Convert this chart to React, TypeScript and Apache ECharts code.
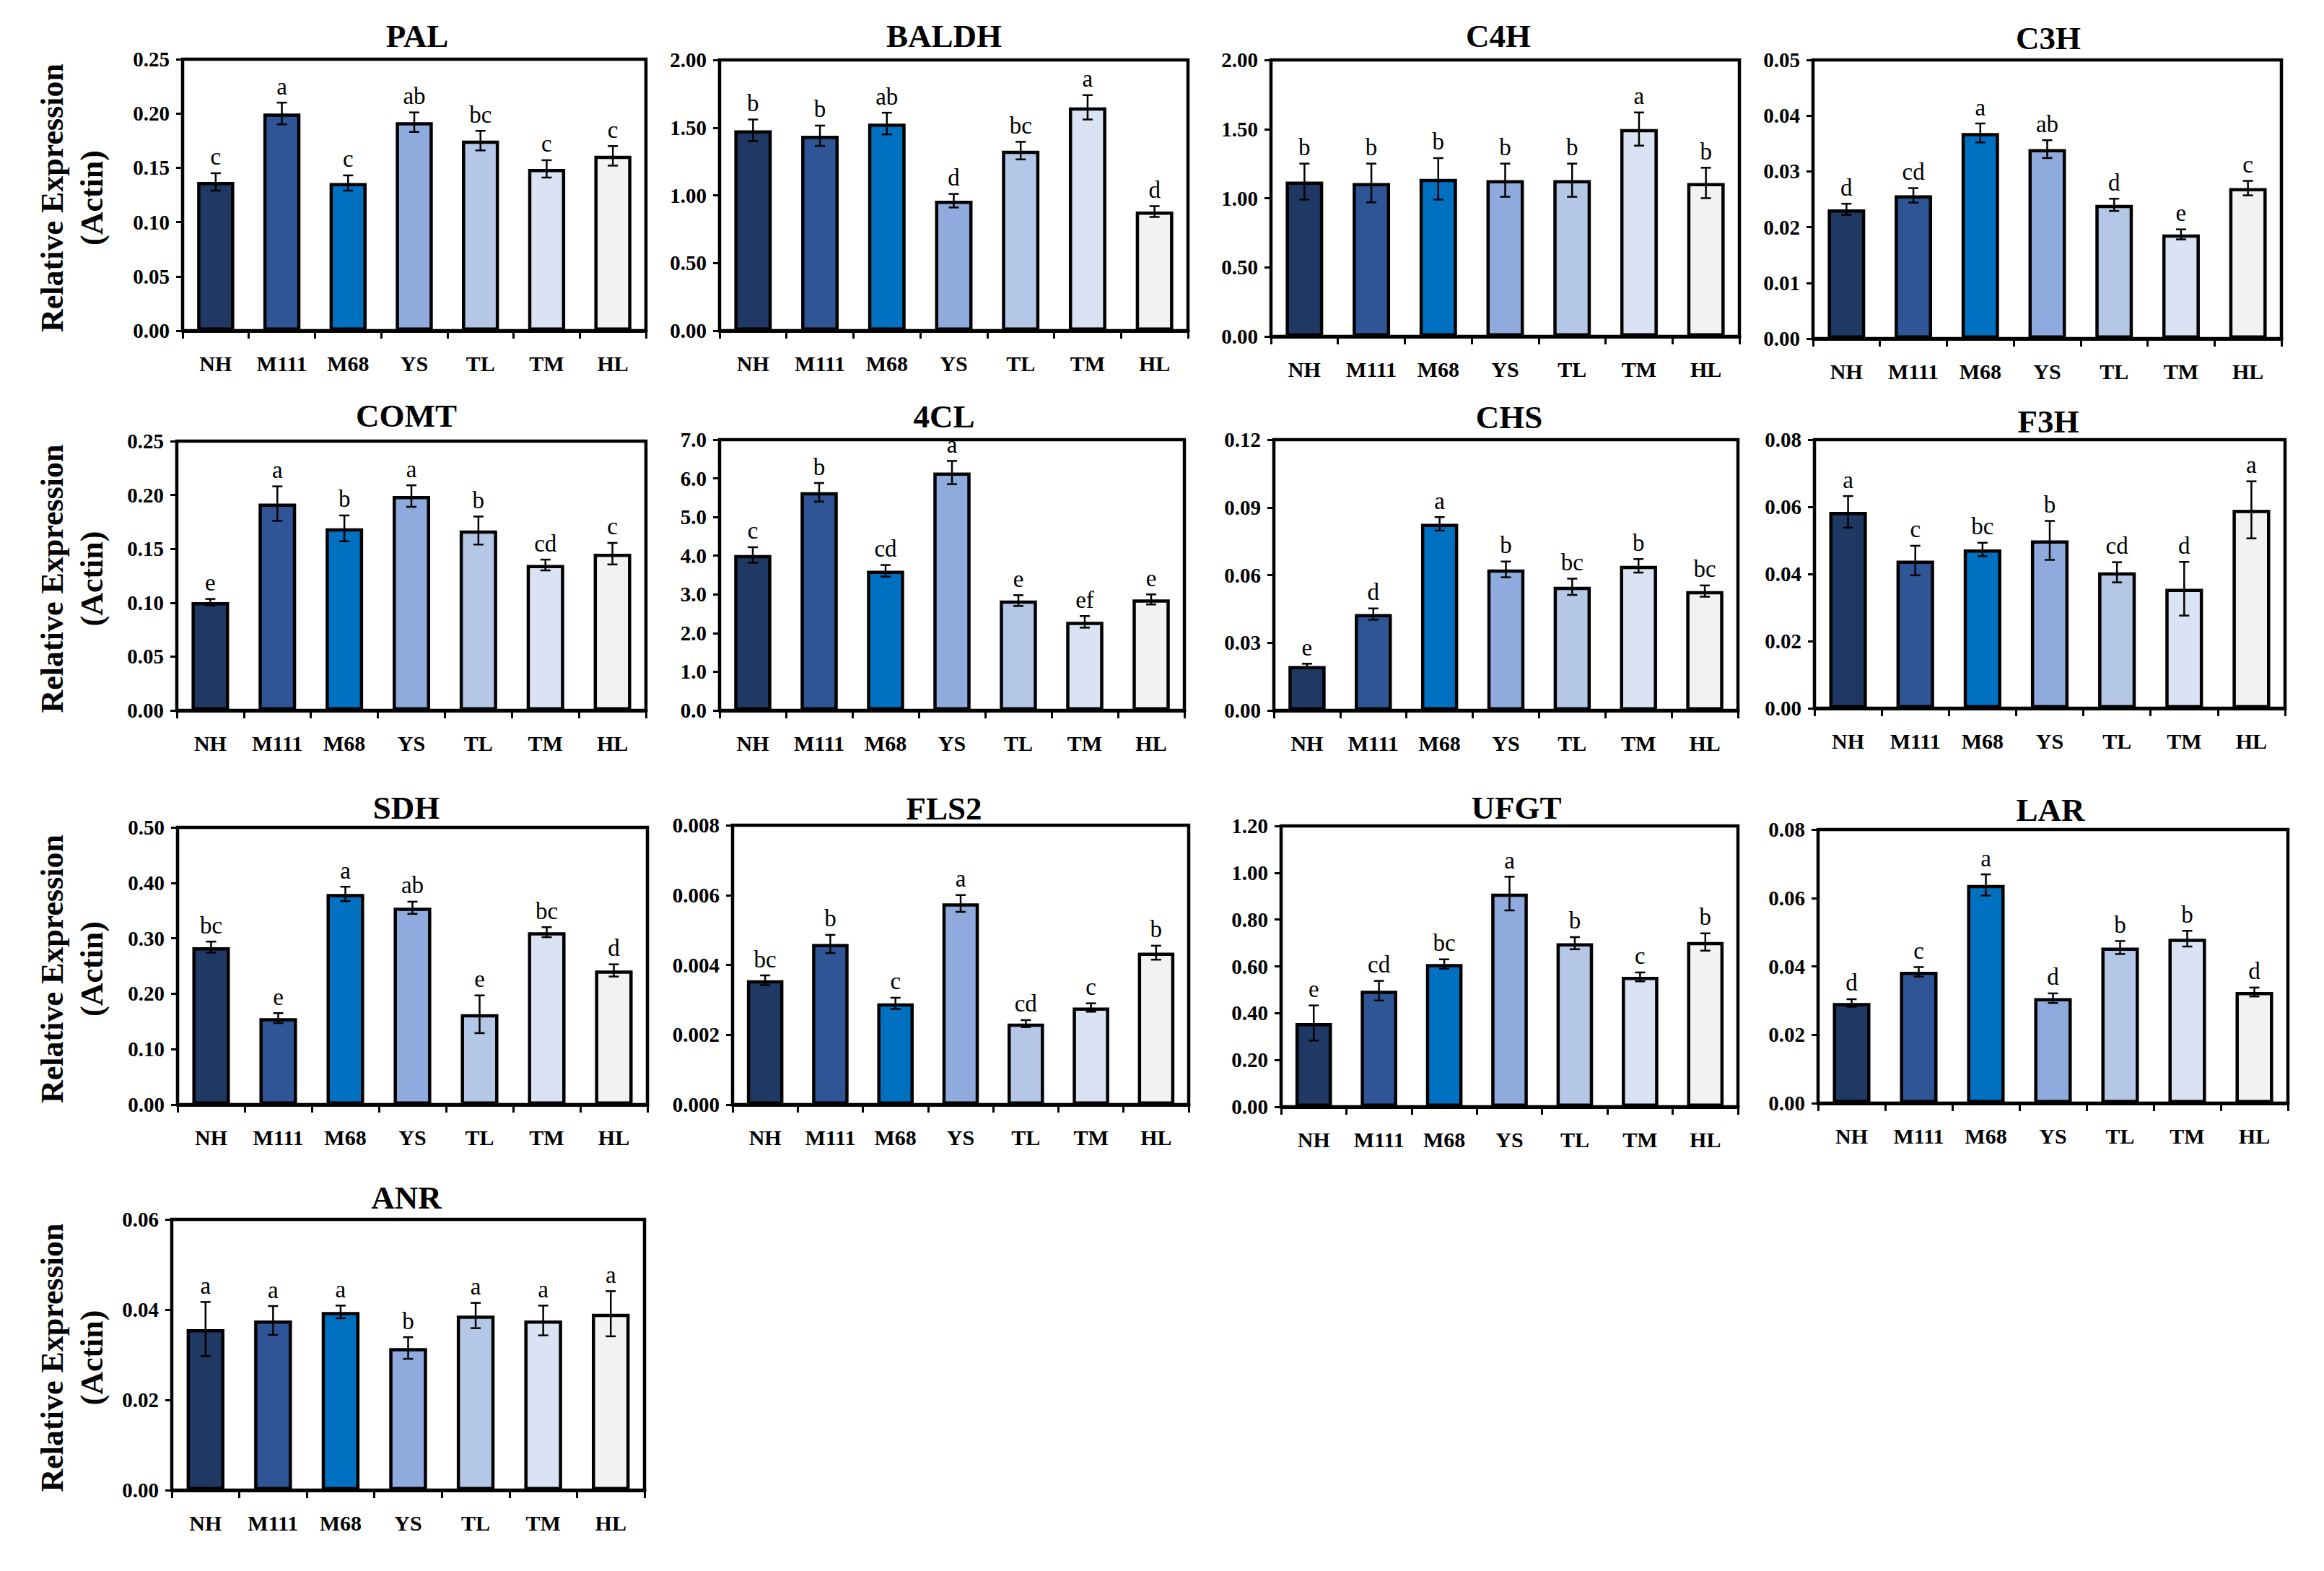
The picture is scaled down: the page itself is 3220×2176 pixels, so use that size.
import React, { useEffect, useRef } from "react";
import * as echarts from "echarts";

const CATS = ["NH", "M111", "M68", "YS", "TL", "TM", "HL"];
const BAR_COLORS = ["#203864", "#2F5597", "#0070C0", "#8FAADC", "#B4C7E7", "#DAE3F3", "#F2F2F2"];
const GENES = ["PAL", "BALDH", "C4H", "C3H", "COMT", "4CL", "CHS", "F3H", "SDH", "FLS2", "UFGT", "LAR", "ANR"];

const palMean = [0.137, 0.2, 0.136, 0.192, 0.175, 0.149, 0.161];
const palErr = [0.008, 0.01, 0.007, 0.009, 0.009, 0.008, 0.009];
const palLet = ["c", "a", "c", "ab", "bc", "c", "c"];

const baldhMean = [1.48, 1.44, 1.53, 0.96, 1.33, 1.65, 0.88];
const baldhErr = [0.08, 0.075, 0.08, 0.05, 0.065, 0.09, 0.04];
const baldhLet = ["b", "b", "ab", "d", "bc", "a", "d"];

const c4hMean = [1.12, 1.11, 1.14, 1.13, 1.13, 1.5, 1.11];
const c4hErr = [0.13, 0.14, 0.15, 0.12, 0.12, 0.12, 0.11];
const c4hLet = ["b", "b", "b", "b", "b", "a", "b"];

const c3hMean = [0.0232, 0.0257, 0.0369, 0.034, 0.024, 0.0187, 0.027];
const c3hErr = [0.001, 0.0013, 0.0017, 0.0016, 0.0011, 0.0009, 0.0013];
const c3hLet = ["d", "cd", "a", "ab", "d", "e", "c"];

const comtMean = [0.1005, 0.192, 0.169, 0.199, 0.167, 0.135, 0.1455];
const comtErr = [0.003, 0.016, 0.012, 0.01, 0.013, 0.005, 0.01];
const comtLet = ["e", "a", "b", "a", "b", "cd", "c"];

const fourclMean = [4.02, 5.64, 3.61, 6.15, 2.84, 2.29, 2.87];
const fourclErr = [0.2, 0.24, 0.15, 0.3, 0.14, 0.15, 0.13];
const fourclLet = ["c", "b", "cd", "a", "e", "ef", "e"];

const chsMean = [0.0197, 0.0427, 0.0827, 0.0625, 0.0548, 0.0641, 0.0529];
const chsErr = [0.001, 0.0025, 0.003, 0.0035, 0.0036, 0.003, 0.0025];
const chsLet = ["e", "d", "a", "b", "bc", "b", "bc"];

const f3hMean = [0.0585, 0.044, 0.0473, 0.05, 0.0405, 0.0356, 0.0591];
const f3hErr = [0.0047, 0.0044, 0.002, 0.0058, 0.003, 0.008, 0.0085];
const f3hLet = ["a", "c", "bc", "b", "cd", "d", "a"];

const sdhMean = [0.284, 0.156, 0.38, 0.355, 0.163, 0.311, 0.242];
const sdhErr = [0.01, 0.009, 0.013, 0.011, 0.034, 0.009, 0.011];
const sdhLet = ["bc", "e", "a", "ab", "e", "bc", "d"];

const fls2Mean = [0.00356, 0.0046, 0.0029, 0.00576, 0.00232, 0.00278, 0.00435];
const fls2Err = [0.00014, 0.00026, 0.00016, 0.00024, 0.0001, 0.00012, 0.0002];
const fls2Let = ["bc", "b", "c", "a", "cd", "c", "b"];

const ufgtMean = [0.358, 0.496, 0.61, 0.911, 0.699, 0.555, 0.704];
const ufgtErr = [0.075, 0.042, 0.02, 0.072, 0.026, 0.019, 0.037];
const ufgtLet = ["e", "cd", "bc", "a", "b", "c", "b"];

const larMean = [0.0293, 0.0384, 0.0638, 0.0307, 0.0455, 0.0481, 0.0325];
const larErr = [0.0011, 0.0014, 0.0031, 0.0014, 0.0019, 0.0023, 0.0013];
const larLet = ["d", "c", "a", "d", "b", "b", "d"];

const anrMean = [0.0357, 0.0376, 0.0395, 0.0315, 0.0387, 0.0376, 0.0391];
const anrErr = [0.006, 0.0032, 0.0014, 0.0024, 0.0028, 0.0033, 0.005];
const anrLet = ["a", "a", "a", "b", "a", "a", "a"];

const Y_MAX = [0.25, 2, 2, 0.05, 0.25, 7, 0.12, 0.08, 0.5, 0.008, 1.2, 0.08, 0.06];
const Y_STEP = [0.05, 0.5, 0.5, 0.01, 0.05, 1, 0.03, 0.02, 0.1, 0.002, 0.2, 0.02, 0.02];
const Y_DEC = [2, 2, 2, 2, 2, 1, 2, 2, 2, 3, 2, 2, 2];

const MEANS = [palMean, baldhMean, c4hMean, c3hMean, comtMean, fourclMean, chsMean, f3hMean, sdhMean, fls2Mean, ufgtMean, larMean, anrMean];
const ERRS = [palErr, baldhErr, c4hErr, c3hErr, comtErr, fourclErr, chsErr, f3hErr, sdhErr, fls2Err, ufgtErr, larErr, anrErr];
const LETTERS = [palLet, baldhLet, c4hLet, c3hLet, comtLet, fourclLet, chsLet, f3hLet, sdhLet, fls2Let, ufgtLet, larLet, anrLet];

// layout: [left, right, top, bottom, titleX, titleY]
const LAYOUT = [
  [253, 895, 82, 458, 578, 50],
  [997, 1646, 83, 458, 1308, 50],
  [1761, 2410, 83, 466, 2076, 50],
  [2512, 3161, 83, 469, 2838, 53],
  [245, 895, 611, 984, 563, 576],
  [997, 1641, 609, 984, 1308, 577],
  [1765, 2408, 609, 984, 2091, 578],
  [2514, 3166, 609, 981, 2838, 584],
  [246, 897, 1146, 1530, 563, 1119],
  [1015, 1647, 1143, 1530, 1308, 1120],
  [1775, 2408, 1144, 1533, 2101, 1119],
  [2519, 3170, 1149, 1528, 2841, 1122],
  [238, 893, 1689, 2064, 563, 1659],
];
const YLABEL_PANELS = [0, 4, 8, 12];

const SERIF = '"Liberation Serif", "Times New Roman", serif';

function buildOption() {
  const grid: any[] = [];
  const xAxis: any[] = [];
  const yAxis: any[] = [];
  const series: any[] = [];
  const graphic: any[] = [];

  GENES.forEach((gene, p) => {
    const [l, r, t, b, tx, ty] = LAYOUT[p];
    grid.push({
      left: l, top: t, width: r - l, height: b - t,
      show: true, borderColor: "#000", borderWidth: 4.5, backgroundColor: "transparent",
    });
    xAxis.push({
      type: "category", gridIndex: p, data: CATS,
      axisLine: { show: true, lineStyle: { color: "#000", width: 5 } },
      axisTick: { show: true, inside: false, length: 11, lineStyle: { color: "#000", width: 3 } },
      axisLabel: { interval: 0, color: "#000", fontFamily: SERIF, fontWeight: "bold", fontSize: 30, margin: 30 },
      splitLine: { show: false },
    });
    yAxis.push({
      type: "value", gridIndex: p, min: 0, max: Y_MAX[p], interval: Y_STEP[p],
      axisLine: { show: true, lineStyle: { color: "#000", width: 4 } },
      axisTick: { show: true, inside: false, length: 9, lineStyle: { color: "#000", width: 3 } },
      axisLabel: {
        color: "#000", fontFamily: SERIF, fontWeight: "bold", fontSize: 29, margin: 18,
        formatter: (v: number) => v.toFixed(Y_DEC[p]),
      },
      splitLine: { show: false },
    });
    series.push({
      type: "bar", xAxisIndex: p, yAxisIndex: p, barWidth: "56%",
      data: MEANS[p].map((v, i) => ({ value: v, itemStyle: { color: BAR_COLORS[i] } })),
      itemStyle: { borderColor: "#000", borderWidth: 4.5 },
      z: 2,
    });
    const letters = LETTERS[p];
    series.push({
      type: "custom", xAxisIndex: p, yAxisIndex: p, z: 5,
      data: MEANS[p].map((v, i) => [i, v, ERRS[p][i]]),
      renderItem: (params: any, api: any) => {
        const i = api.value(0);
        const m = api.value(1);
        const e = api.value(2);
        const pt = api.coord([i, m + e]);
        const pb = api.coord([i, m - e]);
        const cap = 7;
        const st = { stroke: "#000", lineWidth: 2.5 };
        return {
          type: "group",
          children: [
            { type: "line", shape: { x1: pt[0], y1: pt[1], x2: pb[0], y2: pb[1] }, style: st },
            { type: "line", shape: { x1: pt[0] - cap, y1: pt[1], x2: pt[0] + cap, y2: pt[1] }, style: st },
            { type: "line", shape: { x1: pb[0] - cap, y1: pb[1], x2: pb[0] + cap, y2: pb[1] }, style: st },
            {
              type: "text", x: pt[0], y: pt[1] - 6,
              style: {
                text: letters[params.dataIndex], fill: "#000", fontFamily: SERIF, fontSize: 33,
                align: "center", verticalAlign: "bottom", textAlign: "center", textVerticalAlign: "bottom",
              },
            },
          ],
        };
      },
    });
    graphic.push({
      type: "text", x: tx, y: ty,
      style: {
        text: gene, fill: "#000", fontFamily: SERIF, fontWeight: "bold", fontSize: 45,
        textAlign: "center", textVerticalAlign: "middle",
      },
    });
  });

  YLABEL_PANELS.forEach((p) => {
    const [, , t, b] = LAYOUT[p];
    const cy = (t + b) / 2 + 4;
    graphic.push({
      type: "text", x: 72, y: cy, rotation: Math.PI / 2,
      style: {
        text: "Relative Expression", fill: "#000", fontFamily: SERIF, fontWeight: "bold", fontSize: 44,
        textAlign: "center", textVerticalAlign: "middle",
      },
    });
    graphic.push({
      type: "text", x: 127, y: cy, rotation: Math.PI / 2,
      style: {
        text: "(Actin)", fill: "#000", fontFamily: SERIF, fontWeight: "bold", fontSize: 44,
        textAlign: "center", textVerticalAlign: "middle",
      },
    });
  });

  return {
    animation: false,
    backgroundColor: "#fff",
    grid, xAxis, yAxis, series, graphic,
  };
}

export default function App() {
  const ref = useRef<HTMLDivElement>(null);
  useEffect(() => {
    document.body.style.margin = "0";
    const chart = echarts.init(ref.current!, null, { renderer: "svg" });
    chart.setOption(buildOption() as any);
    return () => chart.dispose();
  }, []);
  return (
    <div
      ref={ref}
      style={{ position: "absolute", left: 0, top: 0, width: 3220, height: 2176, background: "#fff" }}
    />
  );
}
